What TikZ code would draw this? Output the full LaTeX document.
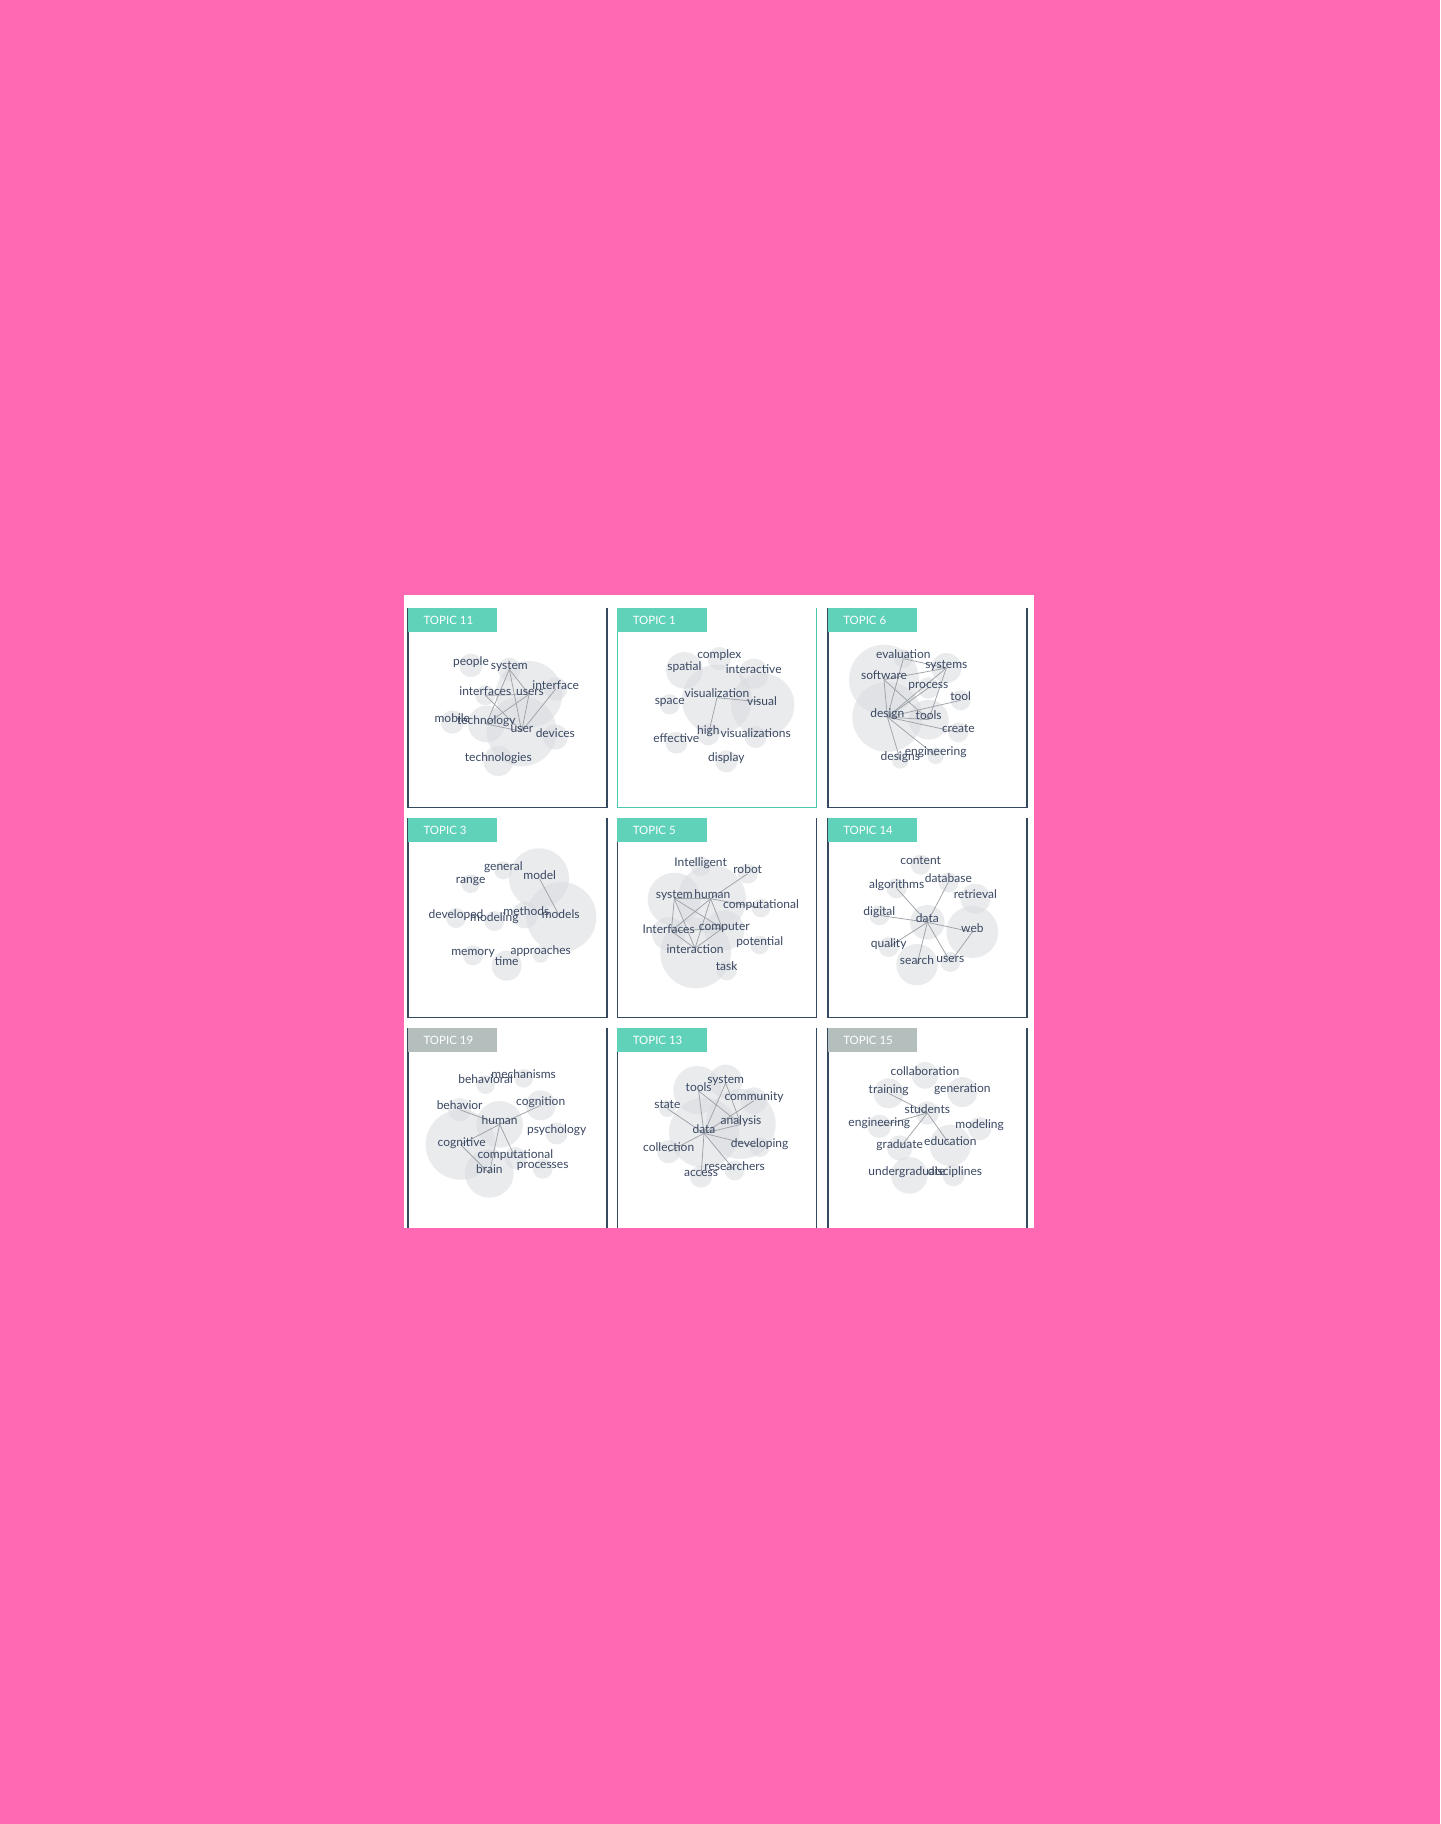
\documentclass[tikz,border=0pt]{standalone}
\usepackage{fontspec}
\setmainfont{Lato}
\definecolor{bgpink}{HTML}{FF69B4}
\definecolor{frame}{HTML}{34495E}
\definecolor{tealsel}{HTML}{4CC9AE}
\definecolor{labteal}{HTML}{5FD2B9}
\definecolor{labgray}{HTML}{B4BFBD}
\definecolor{bubc}{HTML}{D9DCE0}
\definecolor{wordc}{HTML}{3A4862}
\definecolor{edgec}{HTML}{9DA2A8}
\newcommand\bub[4]{\node[bub, minimum size=#4*0.5pt] (#1) at (#2,#3) {};}
\newcommand\wrd[2]{\node[word] at (#1.center) {#2};}
\newcommand\lnk[2]{\draw[edge] (#1.center) -- (#2.center);}
\begin{document}
\begin{tikzpicture}[x=0.75pt,y=-0.75pt,
  bub/.style={circle, fill=bubc, fill opacity=0.55, draw=none, inner sep=0pt, outer sep=0pt},
  word/.style={anchor=base, inner sep=0pt, outer sep=0pt, text=wordc, font=\fontsize{9}{10}\selectfont},
  edge/.style={draw=edgec, line width=0.55pt},
  pframe/.style={line width=1pt},
  labtext/.style={anchor=west, inner sep=0pt, text=white, font=\fontsize{8.6}{10}\selectfont}]
\useasboundingbox (0,0) rectangle (1440,1824);
\fill[bgpink] (0,0) rectangle (1440,1824);
\fill[white] (404,595) rectangle (1034,1228);

% ---------- panel frames ----------
\draw[pframe, frame] (408,608.3) -- (408,807.3) -- (607,807.3) -- (607,608.3);
\draw[pframe, tealsel] (617.5,608.3) -- (617.5,807.3) -- (816.5,807.3) -- (816.5,608.3);
\draw[pframe, frame] (828,608.3) -- (828,807.3) -- (1027,807.3) -- (1027,608.3);
\draw[pframe, frame] (408,818.3) -- (408,1017.3) -- (607,1017.3) -- (607,818.3);
\draw[pframe, frame] (617.5,818.3) -- (617.5,1017.3) -- (816.5,1017.3) -- (816.5,818.3);
\draw[pframe, frame] (828,818.3) -- (828,1017.3) -- (1027,1017.3) -- (1027,818.3);
\draw[pframe, frame] (408,1028.3) -- (408,1228) (607,1028.3) -- (607,1228);
\draw[pframe, frame] (617.5,1028.3) -- (617.5,1228) (816.5,1028.3) -- (816.5,1228);
\draw[pframe, frame] (828,1028.3) -- (828,1228) (1027,1028.3) -- (1027,1228);

% ---------- labels ----------
\fill[labteal] (407.5,608.3) rectangle (496.7,631.7);
\node[labtext] (l11) at (423.3,620) {TOPIC 11};
\fill[labteal] (617,608.3) rectangle (706.5,631.7);
\node[labtext] (l1) at (632.5,620) {TOPIC 1};
\fill[labteal] (827.5,608.3) rectangle (917,631.7);
\node[labtext] (l6) at (843,620) {TOPIC 6};
\fill[labteal] (407.5,818.3) rectangle (496.7,841.7);
\node[labtext] (l3) at (423.3,830) {TOPIC 3};
\fill[labteal] (617,818.3) rectangle (706.5,841.7);
\node[labtext] (l5) at (632.5,830) {TOPIC 5};
\fill[labteal] (827.5,818.3) rectangle (917,841.7);
\node[labtext] (l14) at (843,830) {TOPIC 14};
\fill[labgray] (407.5,1028.3) rectangle (496.7,1051.7);
\node[labtext] (l19) at (423.3,1040) {TOPIC 19};
\fill[labteal] (617,1028.3) rectangle (706.5,1051.7);
\node[labtext] (l13) at (632.5,1040) {TOPIC 13};
\fill[labgray] (827.5,1028.3) rectangle (917,1051.7);
\node[labtext] (l15) at (843,1040) {TOPIC 15};

% ---------- TOPIC 11 ----------
\begin{scope}[shift={(405,605)}, x=0.25pt, y=-0.25pt]
\bub{k-people}{198}{181}{35}
\bub{k-system}{313}{193}{35}
\bub{k-interfaces}{241}{271}{30}
\bub{k-users}{372}{268}{100}
\bub{k-interface}{452}{252}{35}
\bub{k-mobile}{142}{351}{35}
\bub{k-technology}{244}{357}{55}
\bub{k-user}{350}{379}{105}
\bub{k-devices}{451}{396}{38}
\bub{k-technologies}{280}{468}{45}
\lnk{k-system}{k-technology}
\lnk{k-system}{k-user}
\lnk{k-system}{k-users}
\lnk{k-interfaces}{k-users}
\lnk{k-interfaces}{k-user}
\lnk{k-technology}{k-users}
\lnk{k-technology}{k-user}
\lnk{k-users}{k-user}
\lnk{k-interface}{k-user}
\wrd{k-people}{people}
\wrd{k-system}{system}
\wrd{k-interfaces}{interfaces}
\node[word] at (375,271) {users};
\wrd{k-interface}{interface}
\wrd{k-mobile}{mobile}
\wrd{k-technology}{technology}
\node[word] at (351,381) {user};
\wrd{k-devices}{devices}
\wrd{k-technologies}{technologies}
\end{scope}

% ---------- TOPIC 1 ----------
\begin{scope}[shift={(614,605)}, x=0.25pt, y=-0.25pt]
\bub{a-complex}{316}{161}{35}
\bub{a-spatial}{211}{196}{55}
\bub{a-interactive}{419}{206}{45}
\bub{a-visualization}{309}{284}{105}
\bub{a-space}{167}{298}{30}
\bub{a-visual}{446}{300}{95}
\bub{a-high}{283}{388}{33}
\bub{a-visualizations}{425}{396}{33}
\bub{a-effective}{187}{413}{33}
\bub{a-display}{337}{469}{33}
\coordinate (a-vz) at (309,278);
\coordinate (a-vs) at (442,291);
\draw[edge] (a-vz) -- (a-vs);
\draw[edge] (a-vz) -- (a-high.center);
\wrd{a-complex}{complex}
\wrd{a-spatial}{spatial}
\wrd{a-interactive}{interactive}
\node[word] at (309,276) {visualization};
\wrd{a-space}{space}
\node[word] at (444,300) {visual};
\wrd{a-high}{high}
\wrd{a-visualizations}{visualizations}
\wrd{a-effective}{effective}
\wrd{a-display}{display}
\end{scope}

% ---------- TOPIC 6 ----------
\begin{scope}[shift={(822,605)}, x=0.25pt, y=-0.25pt]
\bub{f-evaluation}{244}{161}{28}
\bub{f-systems}{373}{189}{45}
\bub{f-software}{186}{224}{105}
\bub{f-process}{319}{249}{32}
\bub{f-tool}{416}{286}{30}
\bub{f-design}{196}{336}{105}
\bub{f-tools}{320}{344}{60}
\bub{f-create}{409}{382}{30}
\bub{f-engineering}{341}{452}{25}
\bub{f-designs}{235}{466}{25}
\lnk{f-design}{f-evaluation}
\lnk{f-design}{f-software}
\lnk{f-design}{f-systems}
\lnk{f-design}{f-process}
\lnk{f-design}{f-tool}
\lnk{f-design}{f-tools}
\lnk{f-design}{f-create}
\lnk{f-design}{f-engineering}
\lnk{f-design}{f-designs}
\lnk{f-evaluation}{f-systems}
\lnk{f-software}{f-systems}
\lnk{f-software}{f-tools}
\lnk{f-systems}{f-tools}
\wrd{f-evaluation}{evaluation}
\wrd{f-systems}{systems}
\wrd{f-software}{software}
\wrd{f-process}{process}
\wrd{f-tool}{tool}
\wrd{f-design}{design}
\wrd{f-tools}{tools}
\wrd{f-create}{create}
\wrd{f-engineering}{engineering}
\wrd{f-designs}{designs}
\end{scope}

% ---------- TOPIC 3 ----------
\begin{scope}[shift={(405,815)}, x=0.25pt, y=-0.25pt]
\bub{c-general}{295}{166}{27}
\bub{c-model}{402}{190}{90}
\bub{c-range}{197}{206}{28}
\bub{c-developed}{153}{309}{30}
\bub{c-modeling}{268}{318}{30}
\bub{c-methods}{360}{300}{40}
\bub{c-models}{469}{306}{105}
\bub{c-memory}{204}{421}{30}
\bub{c-approaches}{407}{418}{25}
\bub{c-time}{305}{452}{45}
\draw[edge] (404,192) -- (462,300);
\wrd{c-general}{general}
\node[word] at (404,192) {model};
\wrd{c-range}{range}
\wrd{c-developed}{developed}
\wrd{c-modeling}{modeling}
\node[word] at (364,302) {methods};
\node[word] at (467,309) {models};
\wrd{c-memory}{memory}
\wrd{c-approaches}{approaches}
\wrd{c-time}{time}
\end{scope}

% ---------- TOPIC 5 ----------
\begin{scope}[shift={(614,815)}, x=0.25pt, y=-0.25pt]
\bub{e-intelligent}{260}{154}{30}
\bub{e-robot}{401}{176}{30}
\bub{e-system}{181}{253}{80}
\bub{e-human}{293}{253}{103}
\bub{e-computational}{441}{279}{28}
\bub{e-interfaces}{164}{356}{50}
\bub{e-computer}{331}{346}{60}
\bub{e-potential}{437}{390}{28}
\bub{e-interaction}{245}{414}{106}
\bub{e-task}{338}{466}{30}
\coordinate (e-s) at (181,251);
\coordinate (e-h) at (290,251);
\coordinate (e-i) at (172,348);
\coordinate (e-c) at (325,340);
\coordinate (e-x) at (243,400);
\draw[edge] (e-s) -- (e-h);
\draw[edge] (e-s) -- (e-i);
\draw[edge] (e-s) -- (e-x);
\draw[edge] (e-s) -- (e-c);
\draw[edge] (e-h) -- (e-robot.center);
\draw[edge] (e-h) -- (e-i);
\draw[edge] (e-h) -- (e-x);
\draw[edge] (e-h) -- (e-c);
\draw[edge] (e-h) -- (e-computational.center);
\draw[edge] (e-i) -- (e-c);
\draw[edge] (e-i) -- (e-x);
\draw[edge] (e-c) -- (e-x);
\wrd{e-intelligent}{Intelligent}
\wrd{e-robot}{robot}
\node[word] at (181,251) {system};
\node[word] at (295,251) {human};
\wrd{e-computational}{computational}
\wrd{e-interfaces}{Interfaces}
\wrd{e-computer}{computer}
\wrd{e-potential}{potential}
\node[word] at (243,414) {interaction};
\wrd{e-task}{task}
\end{scope}

% ---------- TOPIC 14 ----------
\begin{scope}[shift={(822,815)}, x=0.25pt, y=-0.25pt]
\bub{n-content}{296}{149}{30}
\bub{n-algorithms}{224}{220}{30}
\bub{n-database}{379}{202}{30}
\bub{n-retrieval}{460}{251}{45}
\bub{n-digital}{172}{301}{30}
\bub{n-data}{316}{322}{52}
\bub{n-web}{451}{351}{78}
\bub{n-quality}{200}{396}{30}
\bub{n-search}{285}{449}{62}
\bub{n-users}{385}{441}{30}
\lnk{n-data}{n-algorithms}
\lnk{n-data}{n-database}
\lnk{n-data}{n-digital}
\lnk{n-data}{n-web}
\lnk{n-data}{n-quality}
\lnk{n-data}{n-search}
\lnk{n-data}{n-users}
\lnk{n-web}{n-users}
\wrd{n-content}{content}
\wrd{n-algorithms}{algorithms}
\wrd{n-database}{database}
\wrd{n-retrieval}{retrieval}
\wrd{n-digital}{digital}
\wrd{n-data}{data}
\wrd{n-web}{web}
\wrd{n-quality}{quality}
\wrd{n-search}{search}
\wrd{n-users}{users}
\end{scope}

% ---------- TOPIC 19 ----------
\begin{scope}[shift={(405,1024)}, x=0.25pt, y=-0.25pt]
\bub{s-mechanisms}{356}{163}{28}
\bub{s-behavioral}{242}{182}{28}
\bub{s-cognition}{407}{244}{45}
\bub{s-behavior}{164}{257}{35}
\bub{s-human}{284}{301}{70}
\bub{s-psychology}{455}{328}{33}
\bub{s-cognitive}{167}{362}{105}
\bub{s-computational}{331}{402}{33}
\bub{s-processes}{413}{434}{30}
\bub{s-brain}{253}{448}{73}
\lnk{s-human}{s-behavior}
\lnk{s-human}{s-cognition}
\lnk{s-human}{s-cognitive}
\lnk{s-human}{s-brain}
\lnk{s-human}{s-computational}
\lnk{s-cognitive}{s-brain}
\wrd{s-mechanisms}{mechanisms}
\node[word] at (242,179) {behavioral};
\wrd{s-cognition}{cognition}
\wrd{s-behavior}{behavior}
\wrd{s-human}{human}
\wrd{s-psychology}{psychology}
\node[word] at (170,367) {cognitive};
\wrd{s-computational}{computational}
\wrd{s-processes}{processes}
\wrd{s-brain}{brain}
\end{scope}

% ---------- TOPIC 13 ----------
\begin{scope}[shift={(614,1024)}, x=0.25pt, y=-0.25pt]
\bub{t-system}{335}{172}{50}
\bub{t-tools}{250}{198}{72}
\bub{t-community}{420}{230}{40}
\bub{t-state}{160}{254}{25}
\bub{t-analysis}{380}{300}{105}
\bub{t-data}{270}{326}{105}
\bub{t-developing}{437}{369}{30}
\bub{t-collection}{164}{383}{35}
\bub{t-researchers}{362}{439}{30}
\bub{t-access}{261}{458}{33}
\coordinate (t-s) at (335,177);
\coordinate (t-t) at (254,201);
\coordinate (t-a) at (381,301);
\coordinate (t-d) at (270,328);
\draw[edge] (t-d) -- (t-state.center);
\draw[edge] (t-d) -- (t-t);
\draw[edge] (t-d) -- (t-s);
\draw[edge] (t-d) -- (t-community.center);
\draw[edge] (t-d) -- (t-a);
\draw[edge] (t-d) -- (t-developing.center);
\draw[edge] (t-d) -- (t-collection.center);
\draw[edge] (t-d) -- (t-access.center);
\draw[edge] (t-d) -- (t-researchers.center);
\draw[edge] (t-t) -- (t-a);
\draw[edge] (t-s) -- (t-a);
\node[word] at (t-s) {system};
\node[word] at (t-t) {tools};
\wrd{t-community}{community}
\wrd{t-state}{state}
\node[word] at (t-a) {analysis};
\node[word] at (t-d) {data};
\wrd{t-developing}{developing}
\wrd{t-collection}{collection}
\wrd{t-researchers}{researchers}
\wrd{t-access}{access}
\end{scope}

% ---------- TOPIC 15 ----------
\begin{scope}[shift={(822,1024)}, x=0.25pt, y=-0.25pt]
\bub{q-collaboration}{309}{154}{40}
\bub{q-training}{200}{208}{45}
\bub{q-generation}{421}{204}{45}
\bub{q-students}{316}{267}{35}
\bub{q-engineering}{172}{307}{35}
\bub{q-modeling}{473}{314}{35}
\bub{q-graduate}{233}{372}{38}
\bub{q-education}{385}{364}{62}
\bub{q-undergraduate}{262}{454}{55}
\bub{q-disciplines}{395}{454}{33}
\lnk{q-students}{q-training}
\lnk{q-students}{q-engineering}
\lnk{q-students}{q-graduate}
\lnk{q-students}{q-education}
\wrd{q-collaboration}{collaboration}
\wrd{q-training}{training}
\wrd{q-generation}{generation}
\wrd{q-students}{students}
\wrd{q-engineering}{engineering}
\wrd{q-modeling}{modeling}
\wrd{q-graduate}{graduate}
\wrd{q-education}{education}
\node[word] at (255,454) {undergraduate};
\node[word] at (399,454) {disciplines};
\end{scope}
\end{tikzpicture}
\end{document}
